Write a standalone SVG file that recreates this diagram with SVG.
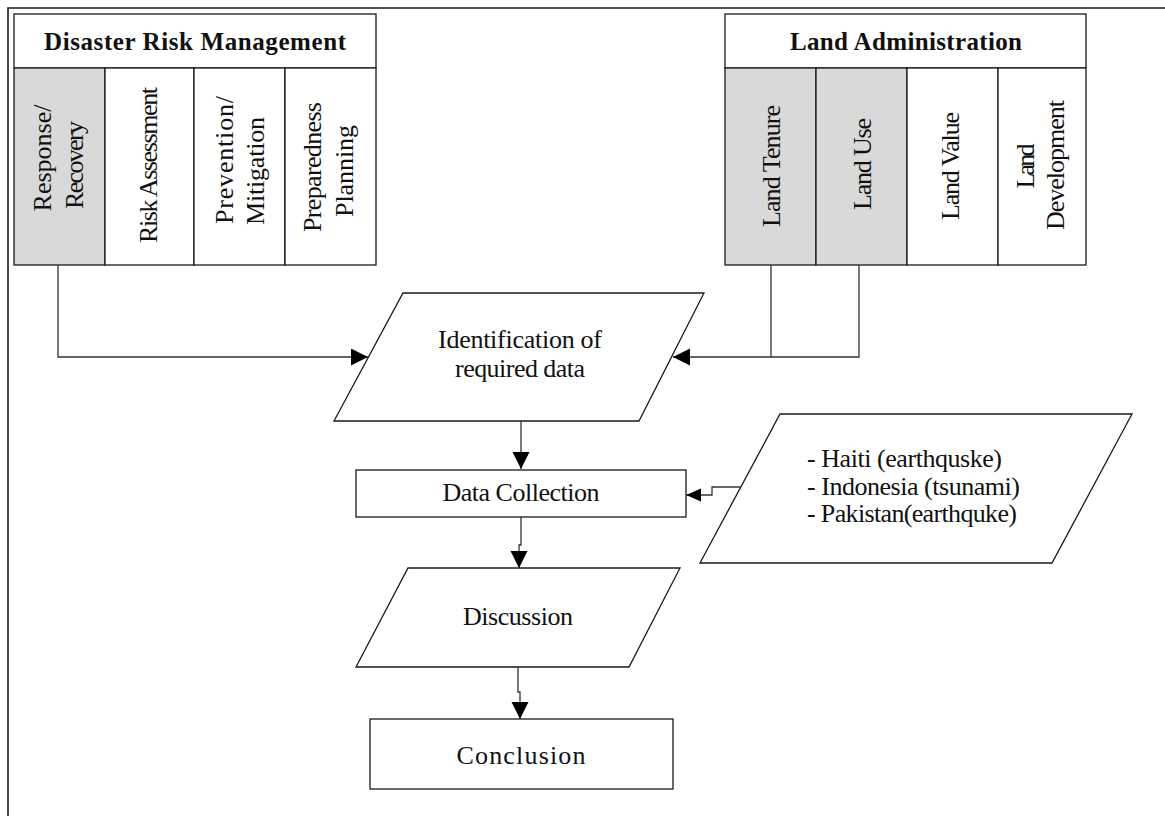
<svg xmlns="http://www.w3.org/2000/svg" width="1165" height="816" viewBox="0 0 1165 816">
  <style>
    .box { fill: #ffffff; stroke: #1a1a1a; stroke-width: 1.3; }
    .grey { fill: #d9d9d9; stroke: #1a1a1a; stroke-width: 1.3; }
    .wire { fill: none; stroke: #333333; stroke-width: 1.3; }
    .t { font-family: "Liberation Serif", "Times New Roman", serif; font-size: 26px; fill: #111111; }
    .hd { font-family: "Liberation Serif", "Times New Roman", serif; font-size: 25px; font-weight: bold; fill: #111111; }
    .mid { text-anchor: middle; }
  </style>
  <defs>
    <marker id="arrow" markerUnits="userSpaceOnUse" markerWidth="18" markerHeight="18" refX="17" refY="8.5" orient="auto">
      <path d="M0,0 L17,8.5 L0,17 z" fill="#000000"/>
    </marker>
    <marker id="arrowSmall" markerUnits="userSpaceOnUse" markerWidth="16" markerHeight="14" refX="15" refY="6.5" orient="auto">
      <path d="M0,0 L15,6.5 L0,13 z" fill="#000000"/>
    </marker>
  </defs>

  <!-- page frame -->
  <path d="M8,816 V8 H1165" fill="none" stroke="#1a1a1a" stroke-width="1.6"/>

  <!-- Disaster Risk Management block -->
  <g id="drm">
    <rect class="box" x="14" y="14" width="362" height="54"/>
    <text class="hd mid" x="195" y="50" textLength="302">Disaster Risk Management</text>
    <rect class="grey" x="14" y="68" width="91" height="197"/>
    <rect class="box" x="105" y="68" width="89" height="197"/>
    <rect class="box" x="194" y="68" width="91" height="197"/>
    <rect class="box" x="285" y="68" width="91" height="197"/>
    <text class="t mid" transform="rotate(-90 51 158)" x="51" y="158">Response/</text>
    <text class="t mid" transform="rotate(-90 83 165)" x="83" y="165" textLength="88">Recovery</text>
    <text class="t mid" transform="rotate(-90 157 165)" x="157" y="165" textLength="156">Risk Assessment</text>
    <text class="t mid" transform="rotate(-90 233 160)" x="233" y="160" textLength="128">Prevention/</text>
    <text class="t mid" transform="rotate(-90 264 171)" x="264" y="171" textLength="108">Mitigation</text>
    <text class="t mid" transform="rotate(-90 321 167)" x="321" y="167" textLength="130">Preparedness</text>
    <text class="t mid" transform="rotate(-90 353 171)" x="353" y="171" textLength="92">Planning</text>
  </g>

  <!-- Land Administration block -->
  <g id="la">
    <rect class="box" x="725" y="14" width="361" height="54"/>
    <text class="hd mid" x="906" y="50" textLength="232">Land Administration</text>
    <rect class="grey" x="725" y="68" width="91" height="197"/>
    <rect class="grey" x="816" y="68" width="91" height="197"/>
    <rect class="box" x="907" y="68" width="91" height="197"/>
    <rect class="box" x="998" y="68" width="88" height="197"/>
    <text class="t mid" transform="rotate(-90 780 166)" x="780" y="166" textLength="122">Land Tenure</text>
    <text class="t mid" transform="rotate(-90 871 164)" x="871" y="164" textLength="92">Land Use</text>
    <text class="t mid" transform="rotate(-90 959 166)" x="959" y="166" textLength="108">Land Value</text>
    <text class="t mid" transform="rotate(-90 1034 166)" x="1034" y="166" textLength="45">Land</text>
    <text class="t mid" transform="rotate(-90 1064 165)" x="1064" y="165" textLength="130">Development</text>
  </g>

  <!-- Identification of required data -->
  <g id="identification">
    <polygon class="box" points="403,293 704,293 639,421 334,421"/>
    <text class="t mid" x="520" y="348" textLength="164">Identification of</text>
    <text class="t mid" x="520" y="377" textLength="130">required data</text>
  </g>

  <!-- Data Collection -->
  <g id="data-collection">
    <rect class="box" x="356" y="470" width="330" height="47"/>
    <text class="t mid" x="521" y="501" textLength="157">Data Collection</text>
  </g>

  <!-- Case studies -->
  <g id="cases">
    <polygon class="box" points="780,414 1132,414 1052,563 700,563"/>
    <text class="t" x="807" y="467" textLength="195">- Haiti (earthquske)</text>
    <text class="t" x="807" y="495" textLength="213">- Indonesia (tsunami)</text>
    <text class="t" x="807" y="522" textLength="210">- Pakistan(earthquke)</text>
  </g>

  <!-- Discussion -->
  <g id="discussion">
    <polygon class="box" points="408,568 680,568 629,667 356,667"/>
    <text class="t mid" x="518" y="625" textLength="110">Discussion</text>
  </g>

  <!-- Conclusion -->
  <g id="conclusion">
    <rect class="box" x="370" y="719" width="303" height="70"/>
    <text class="t mid" x="521" y="764" font-size="30" textLength="129">Conclusion</text>
  </g>

  <!-- connectors -->
  <g id="connectors">
    <path class="wire" d="M58,265 V357 H368" marker-end="url(#arrow)"/>
    <path class="wire" d="M771,265 V357"/>
    <path class="wire" d="M859,265 V357 H673" marker-end="url(#arrow)"/>
    <path class="wire" d="M521,421 V469" marker-end="url(#arrow)"/>
    <path class="wire" d="M740,487 H712 V495 H686" marker-end="url(#arrowSmall)"/>
    <path class="wire" d="M521,517 V545 H519 V568" marker-end="url(#arrow)"/>
    <path class="wire" d="M518,667 V692 H520 V719" marker-end="url(#arrow)"/>
  </g>
</svg>
